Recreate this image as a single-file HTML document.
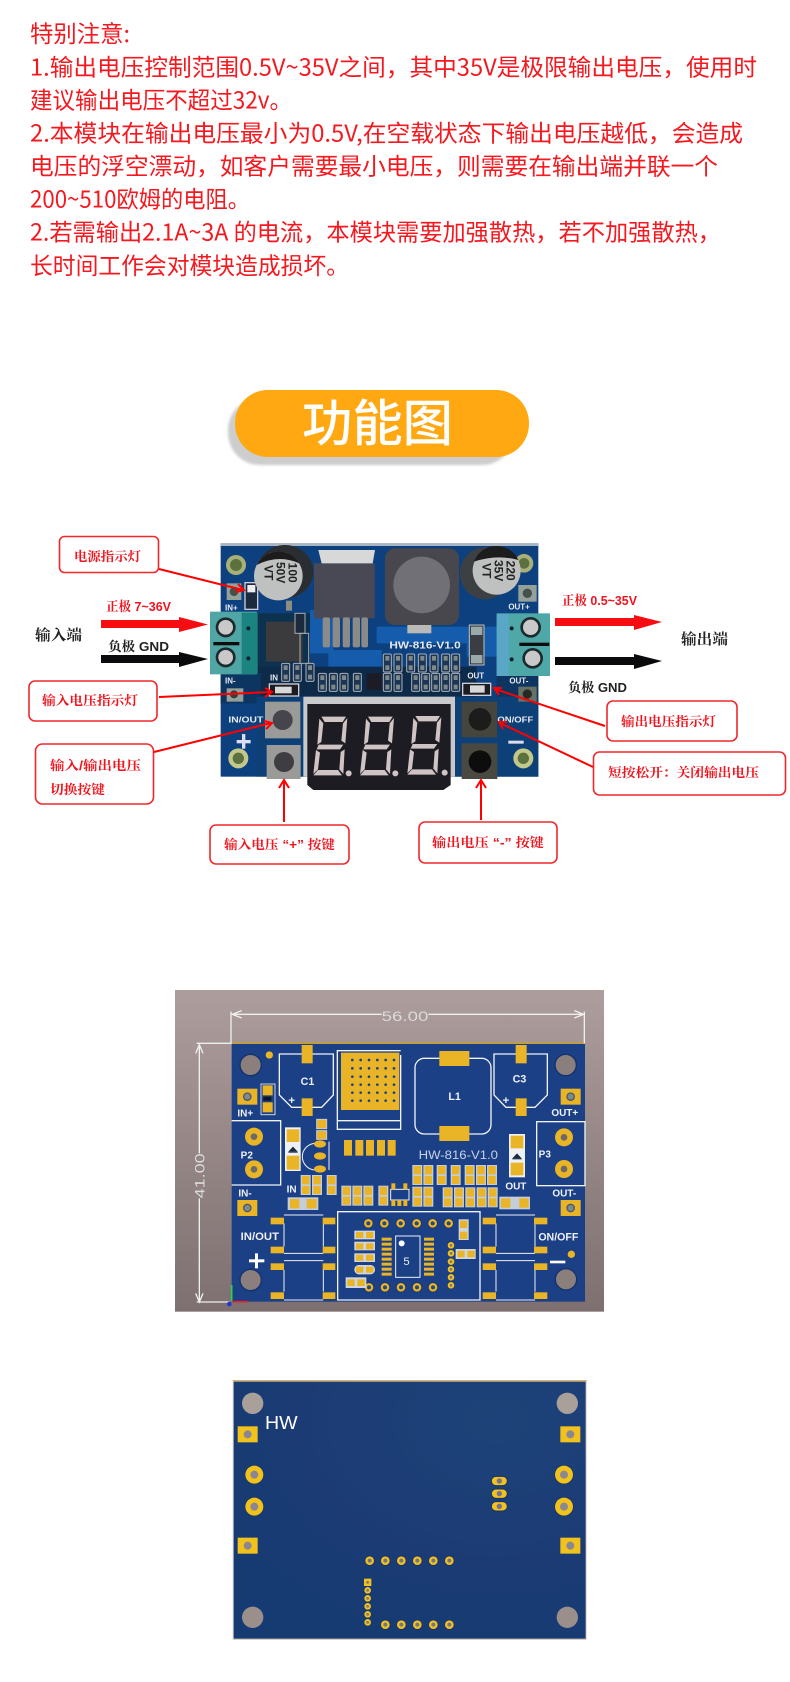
<!DOCTYPE html>
<html><head><meta charset="utf-8"><style>
html,body{margin:0;padding:0;background:#fff}
svg{display:block}
text{font-family:"Liberation Sans","Noto Sans CJK SC",sans-serif}
.n{font-family:"Noto Sans CJK SC","Liberation Sans",sans-serif;font-size:23.5px;fill:#f5181f;font-weight:400}
.s{font-family:"Liberation Sans","Noto Serif CJK SC",serif;font-weight:700;font-size:13px;fill:#f0141e}
.k{font-family:"Liberation Sans","Noto Serif CJK SC",serif;font-weight:700;font-size:13px;fill:#222}
.b{fill:none;stroke:#f0282d;stroke-width:1.6}
.a{stroke:#f00;stroke-width:2;fill:none}
.si{fill:#e6eaf0;font-weight:700}
.w{fill:none;stroke:#f0f2f5;stroke-width:4}
.g{fill:#e9b428}
</style></head><body>
<svg xmlns="http://www.w3.org/2000/svg" width="790" height="1682" viewBox="0 0 790 1682">
<defs>
<filter id="bl"><feGaussianBlur stdDeviation="1.6"/></filter>
<filter id="bs"><feGaussianBlur stdDeviation="1"/></filter>
<filter id="sh" x="-10%" y="-10%" width="120%" height="120%"><feGaussianBlur stdDeviation="1.2"/></filter>
<linearGradient id="bg" x1="0" y1="0" x2="0" y2="1"><stop offset="0" stop-color="#ad9d9c"/><stop offset="1" stop-color="#7e7070"/></linearGradient>
<radialGradient id="bb" cx=".75" cy=".15" r=".9"><stop offset="0" stop-color="#1f4379"/><stop offset=".6" stop-color="#1a3b74"/><stop offset="1" stop-color="#193a73"/></radialGradient>
<g id="dig" fill="#cfc3c3">
<polygon points="18,0 92,0 82,16 28,16"/><polygon points="12,6 24,20 18,76 6,84"/><polygon points="96,4 90,80 78,72 83,20"/>
<polygon points="10,84 84,84 74,98 4,98"/><polygon points="2,100 14,108 8,158 -6,172"/><polygon points="88,98 84,172 72,158 76,106"/>
<polygon points="8,160 68,160 80,176 -6,176"/>
</g>
<g id="r"><rect x="0" y="0" width="24" height="54" rx="4" fill="#1a3554" stroke="#a9b0b8" stroke-width="3"/><rect x="6" y="6" width="12" height="14" fill="#7f8a88"/><rect x="6" y="34" width="12" height="14" fill="#7f8a88"/></g>
<g id="p"><rect x="0" y="0" width="30" height="60" fill="#c4cdd9" /><rect x="4" y="3" width="22" height="25" class="g"/><rect x="4" y="33" width="22" height="24" class="g"/></g>
<g id="v"><circle r="15" fill="#123168"/><circle r="13" class="g"/><circle r="6" fill="#234a80"/></g>
<g id="v2"><circle r="15" fill="#123168"/><circle r="13" fill="#f1c21f"/><circle r="6" fill="#76728a"/></g>
<g id="v3"><circle r="11" fill="#123168"/><circle r="10" fill="#f1c21f"/><circle r="4" fill="#76728a"/></g>
<g id="sq"><rect x="-30" y="-24" width="60" height="48" class="g"/><circle r="13" fill="#4a5a6a"/><circle r="9" fill="#7f8a8f"/></g>
<g id="sq3"><rect x="-30" y="-24" width="60" height="48" fill="#f1c21f"/><circle r="12" fill="#8b8694"/></g>
<g id="big"><circle r="27" class="g"/><circle r="10" fill="#6c6a66"/></g>
<g id="big3"><circle r="29" fill="#123168"/><circle r="27" fill="#f1c21f"/><circle r="12" fill="#8b8694"/></g>
</defs>
<rect width="790" height="1682" fill="#fff"/>

<!-- notice -->
<text class="n" x="30" y="42" textLength="100" lengthAdjust="spacingAndGlyphs">特别注意:</text>
<text class="n" x="30" y="75.500" textLength="727" lengthAdjust="spacingAndGlyphs">1.输出电压控制范围0.5V~35V之间，其中35V是极限输出电压，使用时</text>
<text class="n" x="30" y="108.500" textLength="262" lengthAdjust="spacingAndGlyphs">建议输出电压不超过32v。</text>
<text class="n" x="30" y="141.500" textLength="713" lengthAdjust="spacingAndGlyphs">2.本模块在输出电压最小为0.5V,在空载状态下输出电压越低，会造成</text>
<text class="n" x="30" y="174.500" textLength="688" lengthAdjust="spacingAndGlyphs">电压的浮空漂动，如客户需要最小电压，则需要在输出端并联一个</text>
<text class="n" x="30" y="207.500" textLength="220" lengthAdjust="spacingAndGlyphs">200~510欧姆的电阻。</text>
<text class="n" x="30" y="240.500" textLength="691" lengthAdjust="spacingAndGlyphs">2.若需输出2.1A~3A 的电流，本模块需要加强散热，若不加强散热，</text>
<text class="n" x="30" y="274" textLength="319" lengthAdjust="spacingAndGlyphs">长时间工作会对模块造成损坏。</text>

<!-- pill -->
<rect x="228" y="398" width="286" height="67" rx="32" fill="#cdcdcd" filter="url(#sh)"/>
<rect x="235" y="390" width="294" height="67" rx="33" fill="#ffa812"/>
<text x="302" y="441" textLength="151" lengthAdjust="spacingAndGlyphs" style="font-family:'Noto Sans CJK SC',sans-serif;font-size:50px;font-weight:500;fill:#fff">功能图</text>

<!-- function board photo -->
<g transform="translate(210 530) scale(.33333)">
<g filter="url(#bs)">
<rect x="32" y="40" width="953" height="700" fill="#0d417f"/>
<rect x="32" y="40" width="953" height="8" fill="#a8b6c4"/>
<rect x="140" y="250" width="160" height="230" fill="#10304f"/>
<rect x="300" y="240" width="70" height="130" fill="#135cac"/>
<rect x="355" y="360" width="160" height="50" fill="#135cac"/>
<rect x="500" y="290" width="280" height="50" fill="#135cac"/>
<rect x="770" y="290" width="100" height="90" fill="#135cac"/>
<rect x="140" y="410" width="660" height="90" fill="#0f2a4a"/>
<rect x="860" y="430" width="125" height="90" fill="#0f3562"/>
<rect x="32" y="430" width="120" height="90" fill="#0f3562"/>
<rect x="140" y="500" width="150" height="240" fill="#103f76"/>
<rect x="725" y="500" width="260" height="240" fill="#103f76"/>
<!-- holes -->
<circle cx="78" cy="105" r="30" fill="#a8b078"/><circle cx="78" cy="105" r="18" fill="#5c7040"/>
<circle cx="942" cy="100" r="28" fill="#a8b078"/><circle cx="942" cy="100" r="16" fill="#5c7040"/>
<circle cx="85" cy="685" r="30" fill="#c2c88a"/><circle cx="85" cy="685" r="17" fill="#5c7040"/>
<circle cx="940" cy="685" r="30" fill="#c2c88a"/><circle cx="940" cy="685" r="17" fill="#5c7040"/>
<rect x="50" y="160" width="44" height="50" fill="#94a09a"/><circle cx="72" cy="185" r="13" fill="#45504c"/>
<rect x="925" y="165" width="55" height="50" fill="#94a09a"/><circle cx="952" cy="190" r="14" fill="#45504c"/>
<rect x="50" y="475" width="50" height="40" fill="#94a09a"/><circle cx="72" cy="493" r="12" fill="#33403c"/>
<rect x="925" y="470" width="55" height="45" fill="#687064"/><circle cx="952" cy="492" r="14" fill="#262c28"/>
<!-- led top -->
<rect x="105" y="158" width="38" height="80" fill="#1b2a3e" stroke="#ccd" stroke-width="4"/><rect x="112" y="165" width="24" height="22" fill="#eee"/>
<!-- left cap -->
<ellipse cx="225" cy="125" rx="85" ry="80" fill="#2c2f33"/>
<circle cx="205" cy="138" r="73" fill="#bfc0c0"/>
<path d="M140,105 A73,73 0 0 1 268,100 Q205,72 140,105 Z" fill="#1b1b1e"/>
<rect x="228" y="212" width="18" height="30" fill="#8e8e80"/>
<text transform="translate(235 128) rotate(90)" text-anchor="middle" font-size="36" font-weight="700" fill="#222">100</text>
<text transform="translate(199 128) rotate(90)" text-anchor="middle" font-size="36" font-weight="700" fill="#222">50V</text>
<text transform="translate(163 128) rotate(90)" text-anchor="middle" font-size="36" font-weight="700" fill="#222">VT</text>
<!-- right cap -->
<ellipse cx="825" cy="130" rx="75" ry="78" fill="#3c3f43"/>
<circle cx="860" cy="122" r="72" fill="#bfc0c0"/>
<path d="M792,95 A72,72 0 0 1 925,90 Q860,72 792,95 Z" fill="#1b1b1e"/>
<text transform="translate(890 122) rotate(90)" text-anchor="middle" font-size="36" font-weight="700" fill="#222">220</text>
<text transform="translate(854 122) rotate(90)" text-anchor="middle" font-size="36" font-weight="700" fill="#222">35V</text>
<text transform="translate(818 122) rotate(90)" text-anchor="middle" font-size="36" font-weight="700" fill="#222">VT</text>
<!-- regulator -->
<rect x="312" y="100" width="182" height="165" fill="#4a4856"/>
<polygon points="325,60 495,60 488,100 335,100" fill="#d8d8d8"/>
<g fill="#8a8a88"><rect x="338" y="262" width="22" height="90" rx="6"/><rect x="368" y="262" width="22" height="90" rx="6"/><rect x="398" y="262" width="22" height="90" rx="6"/><rect x="428" y="262" width="22" height="90" rx="6"/><rect x="454" y="262" width="20" height="90" rx="6"/></g>
<!-- inductor -->
<rect x="525" y="55" width="222" height="230" rx="30" fill="#47474e"/>
<circle cx="635" cy="165" r="85" fill="#6f6f76"/>
<rect x="592" y="285" width="72" height="25" fill="#b9b9b5"/>
<!-- coil -->
<rect x="168" y="275" width="110" height="120" fill="#3a3a3e"/>
<rect x="255" y="250" width="30" height="60" fill="#1b2a3e" stroke="#a8acb0" stroke-width="3"/>
<rect x="270" y="310" width="26" height="90" fill="none" stroke="#a8acb0" stroke-width="3"/>
<!-- smd -->
<use href="#r" x="215" y="400"/><use href="#r" x="250" y="400"/><use href="#r" x="288" y="400"/>
<use href="#r" x="325" y="430"/><use href="#r" x="358" y="430"/><use href="#r" x="390" y="430"/><use href="#r" x="430" y="430"/>
<rect x="470" y="430" width="45" height="50" fill="#1c1c26"/>
<use href="#r" x="520" y="372"/><use href="#r" x="552" y="372"/><use href="#r" x="590" y="372"/><use href="#r" x="625" y="372"/><use href="#r" x="660" y="372"/><use href="#r" x="695" y="372"/><use href="#r" x="725" y="372"/>
<use href="#r" x="520" y="430"/><use href="#r" x="552" y="430"/><use href="#r" x="605" y="430"/><use href="#r" x="635" y="430"/><use href="#r" x="665" y="430"/><use href="#r" x="695" y="430"/><use href="#r" x="725" y="430"/>
<!-- diode -->
<rect x="778" y="285" width="44" height="120" fill="#3a3c45" stroke="#c0c0c4" stroke-width="3"/><rect x="783" y="290" width="34" height="25" fill="#9aa"/><rect x="783" y="375" width="34" height="25" fill="#9aa"/>
<!-- LED -->
<rect x="178" y="462" width="88" height="36" fill="#1c1c24" stroke="#d0d0d4" stroke-width="4"/><rect x="195" y="470" width="50" height="20" fill="#d8d8d8"/>
<rect x="758" y="460" width="84" height="36" fill="#1c1c24" stroke="#d0d0d4" stroke-width="4"/><rect x="780" y="466" width="44" height="22" fill="#d8d8d8"/>
<!-- terminals -->
<rect x="0" y="245" width="140" height="188" fill="#4fa6a4"/>
<rect x="95" y="248" width="48" height="184" fill="#1d8480"/>
<rect x="10" y="336" width="78" height="10" fill="#111"/>
<circle cx="47" cy="292" r="30" fill="#1a2b2f"/><circle cx="47" cy="292" r="22" fill="#c9c9c9"/>
<circle cx="47" cy="382" r="30" fill="#1a2b2f"/><circle cx="47" cy="382" r="22" fill="#c9c9c9"/>
<circle cx="115" cy="295" r="6" fill="#123"/><circle cx="115" cy="385" r="6" fill="#123"/>
<rect x="860" y="250" width="160" height="188" fill="#4fa8a8"/>
<rect x="860" y="252" width="36" height="186" fill="#5aa6c6"/>
<rect x="928" y="338" width="90" height="10" fill="#111"/>
<circle cx="962" cy="292" r="31" fill="#1a2b2f"/><circle cx="962" cy="292" r="23" fill="#c9c9c9"/>
<circle cx="968" cy="385" r="31" fill="#1a2b2f"/><circle cx="968" cy="385" r="23" fill="#c9c9c9"/>
<circle cx="905" cy="295" r="6" fill="#123"/><circle cx="905" cy="388" r="6" fill="#123"/>
<!-- display -->
<rect x="280" y="500" width="455" height="240" fill="#c9c9cb"/>
<path d="M292,522 H722 V765 L700,780 H310 L292,765 Z" fill="#1e1e24"/>
<use href="#dig" transform="translate(316 560)"/><use href="#dig" transform="translate(456 560)"/><use href="#dig" transform="translate(598 558)"/>
<g fill="#cfc3c3"><circle cx="416" cy="730" r="9"/><circle cx="556" cy="730" r="9"/><circle cx="704" cy="728" r="9"/></g>
<!-- buttons -->
<rect x="165" y="515" width="106" height="110" fill="#9a9a98"/><circle cx="218" cy="570" r="30" fill="#45454c"/>
<rect x="170" y="645" width="102" height="102" fill="#9a9a98"/><circle cx="222" cy="696" r="30" fill="#3c3c42"/>
<rect x="755" y="515" width="106" height="107" fill="#45453c"/><circle cx="810" cy="568" r="34" fill="#1f1f1c"/>
<rect x="755" y="640" width="107" height="107" fill="#4a4a42"/><circle cx="810" cy="695" r="34" fill="#0c0c0e"/>
<!-- silk -->
<g class="si">
<text x="45" y="242" font-size="24">IN+</text>
<text x="895" y="238" font-size="24">OUT+</text>
<text x="45" y="460" font-size="24">IN-</text>
<text x="898" y="460" font-size="24">OUT-</text>
<text x="55" y="578" font-size="24" textLength="105" lengthAdjust="spacingAndGlyphs">IN/OUT</text>
<text x="862" y="578" font-size="24" textLength="108" lengthAdjust="spacingAndGlyphs">ON/OFF</text>
<text x="538" y="356" font-size="30" textLength="214" lengthAdjust="spacingAndGlyphs">HW-816-V1.0</text>
<text x="180" y="452" font-size="24">IN</text>
<text x="772" y="446" font-size="24">OUT</text>
</g>
<rect x="80" y="630" width="42" height="10" fill="#dde"/><rect x="96" y="612" width="10" height="44" fill="#dde"/>
<rect x="895" y="632" width="46" height="9" fill="#dde"/>
</g>
</g>

<!-- Big arrows -->
<g fill="#f50d12"><rect x="101" y="620" width="78" height="8"/><polygon points="179,617 208,624.500 179,632"/>
<rect x="555" y="618" width="79" height="8"/><polygon points="634,615 662,622 634,630"/></g>
<g fill="#0a0a0c"><rect x="101" y="655" width="78" height="8"/><polygon points="179,652 208,659 179,667"/>
<rect x="555" y="657" width="79" height="8"/><polygon points="634,654 662,661 634,669"/></g>

<!-- callouts -->
<rect class="b" x="59.500" y="536.500" width="99" height="36" rx="5" fill="#fff"/>
<rect class="b" x="29" y="681" width="128" height="40" rx="6"/>
<rect class="b" x="35.500" y="744" width="118" height="60" rx="7"/>
<rect class="b" x="210" y="825" width="139" height="39" rx="6"/>
<rect class="b" x="419" y="822" width="138" height="41" rx="6"/>
<rect class="b" x="607" y="701" width="130" height="40" rx="6"/>
<rect class="b" x="593.500" y="752" width="192" height="43" rx="6"/>

<text class="s" x="74" y="561" textLength="67" lengthAdjust="spacingAndGlyphs">电源指示灯</text>
<text class="s" x="42" y="705" textLength="96" lengthAdjust="spacingAndGlyphs">输入电压指示灯</text>
<text class="s" x="50" y="770" textLength="91" lengthAdjust="spacingAndGlyphs">输入/输出电压</text>
<text class="s" x="50" y="794" textLength="55" lengthAdjust="spacingAndGlyphs">切换按键</text>
<text class="s" x="224" y="849" textLength="111" lengthAdjust="spacingAndGlyphs">输入电压 “+” 按键</text>
<text class="s" x="432" y="847" textLength="112" lengthAdjust="spacingAndGlyphs">输出电压 “-” 按键</text>
<text class="s" x="621" y="726" textLength="95" lengthAdjust="spacingAndGlyphs">输出电压指示灯</text>
<text class="s" x="608" y="777" textLength="151" lengthAdjust="spacingAndGlyphs">短按松开：关闭输出电压</text>

<text class="s" x="106" y="611" textLength="65" lengthAdjust="spacingAndGlyphs">正极 7~36V</text>
<text class="k" x="108" y="651" textLength="61" lengthAdjust="spacingAndGlyphs">负极  GND</text>
<text class="k" x="35" y="640" textLength="47" lengthAdjust="spacingAndGlyphs" style="font-size:15px">输入端</text>
<text class="s" x="562" y="605" textLength="75" lengthAdjust="spacingAndGlyphs">正极 0.5~35V</text>
<text class="k" x="681" y="644" textLength="47" lengthAdjust="spacingAndGlyphs" style="font-size:15px">输出端</text>
<text class="k" x="568" y="692" textLength="59" lengthAdjust="spacingAndGlyphs">负极  GND</text>

<!-- callout arrows -->
<g class="a">
<path d="M159,569 L243,590"/><path d="M238,584 L244,590 L236,592"/>
<path d="M159,697 L271,692"/><path d="M265,688 L272,692 L265,697"/>
<path d="M154,752 L271,723"/><path d="M264,721 L272,723 L266,729"/>
<path d="M284,822 V781"/><path d="M279,788 L284,780 L289,788"/>
<path d="M481,820 V781"/><path d="M476,788 L481,780 L486,788"/>
<path d="M605,726 L495,689"/><path d="M502,688 L494,688 L499,695"/>
<path d="M593,767 L500,723"/><path d="M507,722 L499,722 L503,729"/>
</g>

<!-- PCB top render -->
<g transform="translate(150 970) scale(.33333)">
<g filter="url(#bs)">
<rect x="75" y="60" width="1287" height="965" fill="url(#bg)"/>
<rect x="245" y="220" width="1060" height="775" fill="#1a3f86"/>
<rect x="245" y="218" width="1060" height="4" fill="#c9a020"/>
<!-- dims -->
<g fill="none" stroke="#eef0f0" stroke-width="4">
<path d="M245,133 H695 M835,133 H1303"/><path d="M275,122 L247,133 L275,144"/><path d="M1273,122 L1301,133 L1273,144"/>
<path d="M243,125 V220 M1303,125 V220"/>
<path d="M148,225 V550 M148,685 V995"/><path d="M137,250 L148,224 L159,250"/><path d="M137,970 L148,996 L159,970"/>
<path d="M140,220 H245 M140,996 H240"/>
</g>
<text x="695" y="153" font-size="42" fill="#dcdcdc" textLength="140" lengthAdjust="spacingAndGlyphs">56.00</text>
<text transform="translate(164 685) rotate(-90)" font-size="42" fill="#dcdcdc" textLength="135" lengthAdjust="spacingAndGlyphs">41.00</text>
<!-- holes -->
<g fill="#8b7f7e" stroke="#12316b" stroke-width="4"><circle cx="302" cy="285" r="32"/><circle cx="1247" cy="285" r="32"/><circle cx="302" cy="930" r="32"/><circle cx="1248" cy="928" r="32"/></g>
<circle cx="358" cy="255" r="11" class="g"/><circle cx="1264" cy="853" r="11" class="g"/>
<!-- C1 C3 -->
<path class="w" d="M388,252 H550 V375 L515,412 H425 L388,375 Z"/>
<path class="w" d="M1032,252 H1192 V375 L1155,412 H1068 L1032,375 Z"/>
<g class="g"><rect x="455" y="225" width="33" height="55"/><rect x="455" y="385" width="33" height="53"/><rect x="1097" y="225" width="33" height="55"/><rect x="1097" y="385" width="33" height="53"/></g>
<g fill="#eef1f6" font-weight="700"><text x="452" y="345" font-size="32">C1</text><text x="1088" y="338" font-size="32">C3</text><text x="415" y="402" font-size="34">+</text><text x="1058" y="402" font-size="34">+</text></g>
<!-- reg -->
<path class="w" d="M752,242 H562 V478 H752 V255"/>
<path d="M562,452 H752" class="w"/>
<rect x="573" y="248" width="175" height="172" class="g"/>
<g fill="#1a3f86"><circle cx="607" cy="270" r="4"/><circle cx="632" cy="270" r="4"/><circle cx="657" cy="270" r="4"/><circle cx="682" cy="270" r="4"/><circle cx="707" cy="270" r="4"/><circle cx="732" cy="270" r="4"/>
<circle cx="607" cy="295" r="4"/><circle cx="632" cy="295" r="4"/><circle cx="657" cy="295" r="4"/><circle cx="682" cy="295" r="4"/><circle cx="707" cy="295" r="4"/><circle cx="732" cy="295" r="4"/>
<circle cx="607" cy="320" r="4"/><circle cx="632" cy="320" r="4"/><circle cx="657" cy="320" r="4"/><circle cx="682" cy="320" r="4"/><circle cx="707" cy="320" r="4"/><circle cx="732" cy="320" r="4"/>
<circle cx="607" cy="344" r="4"/><circle cx="632" cy="344" r="4"/><circle cx="657" cy="344" r="4"/><circle cx="682" cy="344" r="4"/><circle cx="707" cy="344" r="4"/><circle cx="732" cy="344" r="4"/>
<circle cx="607" cy="368" r="4"/><circle cx="632" cy="368" r="4"/><circle cx="657" cy="368" r="4"/><circle cx="682" cy="368" r="4"/><circle cx="707" cy="368" r="4"/><circle cx="732" cy="368" r="4"/>
<circle cx="607" cy="392" r="4"/><circle cx="632" cy="392" r="4"/><circle cx="657" cy="392" r="4"/><circle cx="682" cy="392" r="4"/><circle cx="707" cy="392" r="4"/><circle cx="732" cy="392" r="4"/></g>
<g class="g"><rect x="582" y="510" width="24" height="47"/><rect x="616" y="510" width="24" height="47"/><rect x="648" y="510" width="24" height="47"/><rect x="681" y="510" width="24" height="47"/><rect x="713" y="510" width="24" height="47"/></g>
<!-- L1 -->
<rect class="w" x="795" y="265" width="228" height="227" rx="28"/>
<g class="g"><rect x="868" y="243" width="90" height="45"/><rect x="868" y="468" width="90" height="45"/></g>
<text x="895" y="390" font-size="32" fill="#eef1f6" font-weight="700">L1</text>
<!-- P2 P3 -->
<path class="w" d="M245,452 H392 V645 H245"/><rect class="w" x="1160" y="455" width="145" height="192"/>
<use href="#big" x="312" y="500"/><use href="#big" x="312" y="598"/><use href="#big" x="1242" y="502"/><use href="#big" x="1242" y="597"/>
<text x="272" y="565" font-size="30" fill="#eef1f6" font-weight="700">P2</text><text x="1166" y="562" font-size="30" fill="#eef1f6" font-weight="700">P3</text>
<use href="#sq" x="292" y="380"/><use href="#sq" x="1262" y="380"/><use href="#sq" x="292" y="714"/><use href="#sq" x="1262" y="714"/>
<g fill="#eef1f6" font-weight="700" font-size="30"><text x="262" y="440">IN+</text><text x="1204" y="438">OUT+</text><text x="265" y="680">IN-</text><text x="1207" y="680">OUT-</text><text x="410" y="668">IN</text><text x="1066" y="658">OUT</text></g>
<text x="272" y="810" font-size="32" fill="#eef1f6" font-weight="700" textLength="115" lengthAdjust="spacingAndGlyphs">IN/OUT</text>
<text x="1165" y="811" font-size="32" fill="#eef1f6" font-weight="700" textLength="120" lengthAdjust="spacingAndGlyphs">ON/OFF</text>
<rect x="297" y="868" width="46" height="9" fill="#fff"/><rect x="315" y="850" width="9" height="45" fill="#fff"/>
<rect x="1200" y="872" width="46" height="8" fill="#fff"/>
<text x="806" y="567" font-size="36" fill="#c9d2e6" textLength="238" lengthAdjust="spacingAndGlyphs">HW-816-V1.0</text>
<!-- LED top -->
<rect x="333" y="342" width="42" height="92" fill="#1a3f86" stroke="#c9d2e6" stroke-width="3"/><rect x="338" y="346" width="30" height="30" class="g"/><rect x="338" y="397" width="30" height="30" class="g"/><rect x="340" y="380" width="24" height="12" fill="#101820"/>
<!-- Diodes -->
<g><rect x="405" y="472" width="47" height="131" fill="#edf0f5"/><rect x="410" y="478" width="38" height="38" class="g"/><rect x="410" y="557" width="38" height="42" class="g"/><polygon points="415,545 443,545 429,530" fill="#1c2a40"/><rect x="415" y="545" width="28" height="3" fill="#1c2a40"/></g>
<g><rect x="1077" y="492" width="48" height="130" fill="#edf0f5"/><rect x="1082" y="497" width="38" height="38" class="g"/><rect x="1082" y="578" width="38" height="38" class="g"/><polygon points="1087,565 1115,565 1101,550" fill="#1c2a40"/><rect x="1087" y="565" width="28" height="3" fill="#1c2a40"/></g>
<!-- transistor -->
<circle cx="497" cy="560" r="40" fill="none" stroke="#eef1f6" stroke-width="3"/><rect x="495" y="515" width="42" height="90" fill="#1a3f86"/><path d="M537,515 V600" stroke="#eef1f6" stroke-width="3"/>
<g class="g"><ellipse cx="510" cy="522" rx="18" ry="11"/><ellipse cx="510" cy="558" rx="18" ry="11"/><ellipse cx="510" cy="597" rx="18" ry="11"/></g>
<rect x="500" y="448" width="30" height="28" class="g" stroke="#c4cdd9" stroke-width="3"/><rect x="500" y="482" width="30" height="26" class="g" stroke="#c4cdd9" stroke-width="3"/>
<!-- SMDs -->
<use href="#p" x="452" y="615"/><use href="#p" x="486" y="615"/><use href="#p" x="530" y="615"/>
<use href="#p" x="574" y="647"/><use href="#p" x="607" y="647"/><use href="#p" x="640" y="647"/><use href="#p" x="685" y="647"/>
<use href="#p" x="787" y="585"/><use href="#p" x="820" y="585"/><use href="#p" x="860" y="585"/><use href="#p" x="902" y="585"/><use href="#p" x="944" y="585"/><use href="#p" x="978" y="585"/><use href="#p" x="1011" y="585"/>
<use href="#p" x="787" y="650"/><use href="#p" x="820" y="650"/><use href="#p" x="878" y="652"/><use href="#p" x="912" y="652"/><use href="#p" x="946" y="652"/><use href="#p" x="980" y="652"/><use href="#p" x="1013" y="652"/>
<rect x="722" y="658" width="55" height="32" fill="#1a3f86" stroke="#eef1f6" stroke-width="3"/>
<g class="g"><rect x="724" y="640" width="12" height="18"/><rect x="760" y="640" width="12" height="18"/><rect x="724" y="690" width="12" height="18"/><rect x="742" y="690" width="12" height="18"/><rect x="760" y="690" width="12" height="18"/></g>
<rect x="413" y="682" width="92" height="38" fill="#c4cdd9"/><rect x="420" y="687" width="28" height="28" class="g"/><rect x="470" y="687" width="30" height="28" class="g"/>
<rect x="1048" y="680" width="92" height="38" fill="#c4cdd9"/><rect x="1053" y="685" width="28" height="28" class="g"/><rect x="1108" y="685" width="28" height="28" class="g"/>
<!-- display outline -->
<path class="w" d="M563,990 V725 H990 V990 Z"/>
<use href="#v" x="655" y="760"/><use href="#v" x="703" y="760"/><use href="#v" x="752" y="760"/><use href="#v" x="800" y="760"/><use href="#v" x="848" y="760"/><use href="#v" x="896" y="760"/>
<use href="#v" x="657" y="952"/><use href="#v" x="705" y="952"/><use href="#v" x="753" y="952"/><use href="#v" x="801" y="952"/><use href="#v" x="849" y="952"/>
<use href="#v3" x="903" y="826"/><use href="#v3" x="903" y="850"/><use href="#v3" x="903" y="875"/><use href="#v3" x="903" y="898"/><use href="#v3" x="903" y="922"/><use href="#v3" x="903" y="946"/>
<rect x="737" y="798" width="73" height="124" fill="none" stroke="#eef1f6" stroke-width="3"/><circle cx="755" cy="820" r="9" fill="#fff"/>
<text x="760" y="885" font-size="34" fill="#eef1f6">5</text>
<g class="g">
<rect x="695" y="803" width="30" height="9"/><rect x="695" y="818" width="30" height="9"/><rect x="695" y="833" width="30" height="9"/><rect x="695" y="848" width="30" height="9"/><rect x="695" y="863" width="30" height="9"/><rect x="695" y="878" width="30" height="9"/><rect x="695" y="893" width="30" height="9"/><rect x="695" y="908" width="30" height="9"/>
<rect x="822" y="803" width="30" height="9"/><rect x="822" y="818" width="30" height="9"/><rect x="822" y="833" width="30" height="9"/><rect x="822" y="848" width="30" height="9"/><rect x="822" y="863" width="30" height="9"/><rect x="822" y="878" width="30" height="9"/><rect x="822" y="893" width="30" height="9"/><rect x="822" y="908" width="30" height="9"/>
</g>
<g fill="#d0d6e0"><rect x="613" y="782" width="62" height="26"/><rect x="613" y="815" width="62" height="26"/><rect x="613" y="850" width="62" height="26"/><rect x="613" y="885" width="62" height="28" rx="13"/><rect x="587" y="922" width="62" height="32"/><rect x="926" y="748" width="30" height="62"/><rect x="917" y="837" width="60" height="30"/></g>
<g class="g"><rect x="618" y="786" width="22" height="18"/><rect x="648" y="786" width="22" height="18"/><rect x="618" y="820" width="22" height="18"/><rect x="648" y="820" width="22" height="18"/><rect x="618" y="854" width="22" height="18"/><rect x="648" y="854" width="22" height="18"/><rect x="618" y="890" width="22" height="18"/><rect x="648" y="890" width="22" height="18"/><rect x="592" y="928" width="22" height="20"/><rect x="622" y="928" width="22" height="20"/><rect x="930" y="752" width="22" height="22"/><rect x="930" y="785" width="22" height="22"/><rect x="922" y="842" width="22" height="20"/><rect x="952" y="842" width="22" height="20"/></g>
<!-- buttons -->
<path fill="none" stroke="#eef1f6" stroke-width="3" d="M402,735 H520 M402,850 H520 M402,872 H520 M402,990 H520 M402,760 V830 M520,760 V830 M402,900 V965 M520,900 V965 M1038,735 H1155 M1038,850 H1155 M1038,872 H1155 M1038,990 H1155 M1038,760 V830 M1155,760 V830 M1038,900 V965 M1155,900 V965"/>
<g class="g">
<rect x="362" y="743" width="40" height="20"/><rect x="518" y="743" width="38" height="20"/><rect x="362" y="830" width="40" height="20"/><rect x="518" y="830" width="38" height="20"/>
<rect x="362" y="880" width="40" height="20"/><rect x="518" y="880" width="38" height="20"/><rect x="362" y="967" width="40" height="20"/><rect x="518" y="967" width="38" height="20"/>
<rect x="998" y="743" width="40" height="20"/><rect x="1152" y="743" width="40" height="20"/><rect x="998" y="830" width="40" height="20"/><rect x="1152" y="830" width="40" height="20"/>
<rect x="998" y="880" width="40" height="20"/><rect x="1152" y="880" width="40" height="20"/><rect x="998" y="967" width="40" height="20"/><rect x="1152" y="967" width="40" height="20"/>
</g>
<!-- axis -->
<path d="M245,995 V945" stroke="#2bd14a" stroke-width="5"/><path d="M245,995 H295" stroke="#e8242a" stroke-width="5"/><circle cx="238" cy="1002" r="7" fill="#2436d8"/>
</g>
</g>

<!-- PCB bottom -->
<g transform="translate(210 1360) scale(.33333)">
<g filter="url(#bs)">
<rect x="68" y="60" width="1062" height="780" fill="#d9cfc6"/>
<rect x="68" y="60" width="1062" height="4" fill="#d8b070"/>
<rect x="71" y="65" width="1056" height="771" fill="url(#bb)"/>
<g fill="#a9a09a"><circle cx="128" cy="130" r="32"/><circle cx="1072" cy="130" r="32"/><circle cx="128" cy="772" r="32" fill="#9a8f8a"/><circle cx="1072" cy="772" r="32" fill="#9a8f8a"/></g>
<text x="165" y="207" font-size="56" fill="#fff" textLength="98" lengthAdjust="spacingAndGlyphs">HW</text>
<use href="#sq3" x="113" y="223"/><use href="#sq3" x="1081" y="223"/><use href="#sq3" x="113" y="557"/><use href="#sq3" x="1081" y="557"/>
<use href="#big3" x="133" y="344"/><use href="#big3" x="133" y="440"/><use href="#big3" x="1062" y="344"/><use href="#big3" x="1062" y="440"/>
<g fill="#f1c21f" stroke="#123168" stroke-width="3"><rect x="844" y="349" width="48" height="28" rx="14"/><rect x="844" y="387" width="48" height="28" rx="14"/><rect x="844" y="425" width="48" height="28" rx="14"/></g>
<g fill="#76728a"><circle cx="868" cy="363" r="8"/><circle cx="868" cy="401" r="8"/><circle cx="868" cy="439" r="8"/></g>
<use href="#v2" x="479" y="602"/><use href="#v2" x="526" y="602"/><use href="#v2" x="574" y="602"/><use href="#v2" x="622" y="602"/><use href="#v2" x="670" y="602"/><use href="#v2" x="718" y="602"/>
<use href="#v2" x="526" y="794"/><use href="#v2" x="574" y="794"/><use href="#v2" x="622" y="794"/><use href="#v2" x="670" y="794"/><use href="#v2" x="718" y="794"/>
<rect x="462" y="656" width="22" height="22" fill="#f1c21f"/><circle cx="473" cy="667" r="4" fill="#76728a"/>
<use href="#v3" x="473" y="691"/><use href="#v3" x="473" y="715"/><use href="#v3" x="473" y="739"/><use href="#v3" x="473" y="763"/><use href="#v3" x="473" y="787"/>
</g>
</g>
</svg>
</body></html>
